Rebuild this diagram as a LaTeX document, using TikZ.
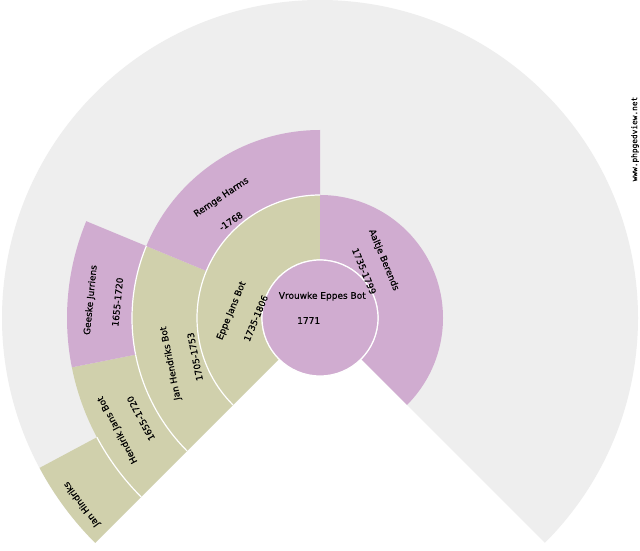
\documentclass[tikz,border=0pt]{standalone}
\usepackage{fontspec}
\setmainfont{DejaVu Sans}
\newfontfamily\lblfont{DejaVu Sans}[FakeBold=0.3]
\newfontfamily\wmfont{DejaVu Sans Mono}[FakeBold=0.3]
\definecolor{fem}{RGB}{208,172,208}
\definecolor{mal}{RGB}{208,208,172}
\definecolor{bggrey}{RGB}{238,238,238}
\newcommand\fanseg[5]{%
  \fill[#5] (#3:#1) arc[start angle=#3, end angle=#4, radius=#1] -- (#4:#2) arc[start angle=#4, end angle=#3, radius=#2] -- cycle;
  \draw[white, line width=1.2pt] (#3:#1) arc[start angle=#3, end angle=#4, radius=#1];
}
\tikzset{
  lbl/.style={inner sep=0pt, font=\lblfont\fontsize{9}{10}\selectfont, text=black},
  wm/.style={inner sep=0pt, font=\wmfont\fontsize{7.8}{9}\selectfont, text=black}
}
\begin{document}
\begin{tikzpicture}[x=1pt,y=1pt]
\useasboundingbox (0,0) rectangle (640,550);
\fill[white] (0,0) rectangle (640,550);
\begin{scope}[shift={(320,232)}]
  % background fan
  \fill[bggrey] (0,0) -- (-45:318) arc[start angle=-45, end angle=225, radius=318] -- cycle;
  % ring 1
  \fanseg{58}{123}{90}{225}{mal}
  \fanseg{58}{123}{-45}{90}{fem}
  % ring 2
  \fanseg{123}{188}{157.5}{225}{mal}
  \fanseg{123}{188}{90}{157.5}{fem}
  % ring 3
  \fanseg{188}{253}{191.25}{225}{mal}
  \fanseg{188}{253}{157.5}{191.25}{fem}
  % ring 4
  \fanseg{253}{318}{208.125}{225}{mal}
  % centre
  \fill[fem] (0,0) circle[radius=58];
  \draw[white, line width=1.2pt] (0,0) circle[radius=58];
\end{scope}
% texts
\node[lbl] (p1n) at (322.3,253.7) {Vrouwke Eppes Bot};
\node[lbl] (p1d) at (308.7,229.5) {1771};
\node[lbl, rotate=-67.5] (p3n) at (383.7,290) {Aaltje Berends};
\node[lbl, rotate=-67.5] (p3d) at (364.2,278.8) {1735-1799};
\node[lbl, rotate=67.5] (p2n) at (231.7,239.2) {Eppe Jans Bot};
\node[lbl, rotate=67.5] (p2d) at (255.8,231.7) {1735-1806};
\node[lbl, rotate=33.75] (p5n) at (221.5,352.5) {Remge Harms};
\node[lbl, rotate=33.75] (p5d) at (230.8,328.8) {-1768};
\node[lbl, rotate=101.25] (p4n) at (170.8,186.7) {Jan Hendriks Bot};
\node[lbl, rotate=101.25] (p4d) at (195,193.3) {1705-1753};
\node[lbl, rotate=84.375] (p9n) at (90.8,250) {Geeske Jurriens};
\node[lbl, rotate=84.375] (p9d) at (117.5,248) {1655-1720};
\node[lbl, rotate=118.125] (p8n) at (117.7,120) {Hendrik Jans Bot};
\node[lbl, rotate=118.125] (p8d) at (140.8,131.7) {1655-1720};
\node[lbl, rotate=126.5625] (p16n) at (81.7,45.8) {Jan Hindriks};
\node[wm, rotate=90] (wmark) at (635,411) {www.phpgedview.net};
\end{tikzpicture}
\end{document}
